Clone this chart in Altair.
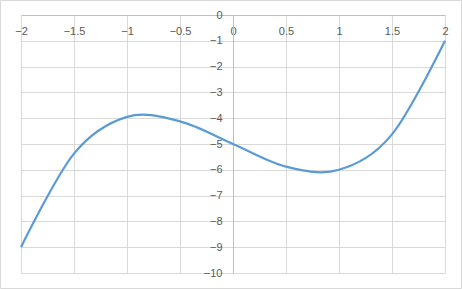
import altair as alt
import pandas as pd

xs = [-2.0, -1.5, -1.0, -0.5, 0.0, 0.5, 1.0, 1.5, 2.0]
ys = [-9.0, -5.375, -3.95, -4.125, -5.0, -5.875, -6.0, -4.625, -1.0]

df = pd.DataFrame({"x": xs, "y": ys})

W, H = 424, 258
FONT = "Liberation Sans"
LBL = "#595959"
GRID = "#d9d9d9"

x_ticks = [-2, -1.5, -1, -0.5, 0, 0.5, 1, 1.5, 2]
y_ticks = list(range(-10, 1))

xscale = alt.Scale(domain=[-2, 2], nice=False, zero=False)
yscale = alt.Scale(domain=[-10, 0], nice=False, zero=False)

line = alt.Chart(df).mark_line(
    interpolate="cardinal", color="#5b9bd5", strokeWidth=2.2
).encode(
    x=alt.X("x:Q", scale=xscale, axis=alt.Axis(
        orient="bottom", offset=-H, values=x_ticks, title=None,
        ticks=False, labelPadding=10, labelFlush=False, labelOverlap=False,
        labelFont=FONT, labelFontSize=11, labelColor=LBL,
        domainColor="#bfbfbf", gridColor=GRID, grid=True, format="~r")),
    y=alt.Y("y:Q", scale=yscale, axis=alt.Axis(
        orient="left", offset=-W / 2, values=y_ticks, title=None,
        ticks=False, labelPadding=11, labelFlush=False, labelOverlap=False,
        labelFont=FONT, labelFontSize=11, labelColor=LBL,
        domainColor="#bfbfbf", gridColor=GRID, grid=True, format="d")),
)

frame = alt.Chart(pd.DataFrame({"a": [0]})).mark_rect(
    fill=None, stroke=GRID, strokeWidth=1
).encode(
    x=alt.value(-20.5), x2=alt.value(440.5),
    y=alt.value(-14.5), y2=alt.value(273.5),
)

chart = alt.layer(frame, line).properties(
    width=W, height=H,
    padding={"left": 21, "top": 15, "right": 17, "bottom": 16},
    autosize=alt.AutoSizeParams(type="none"),
    background="white",
).configure_view(stroke=None)

chart.save("out.html", embed_options={"renderer": "svg", "actions": False})
